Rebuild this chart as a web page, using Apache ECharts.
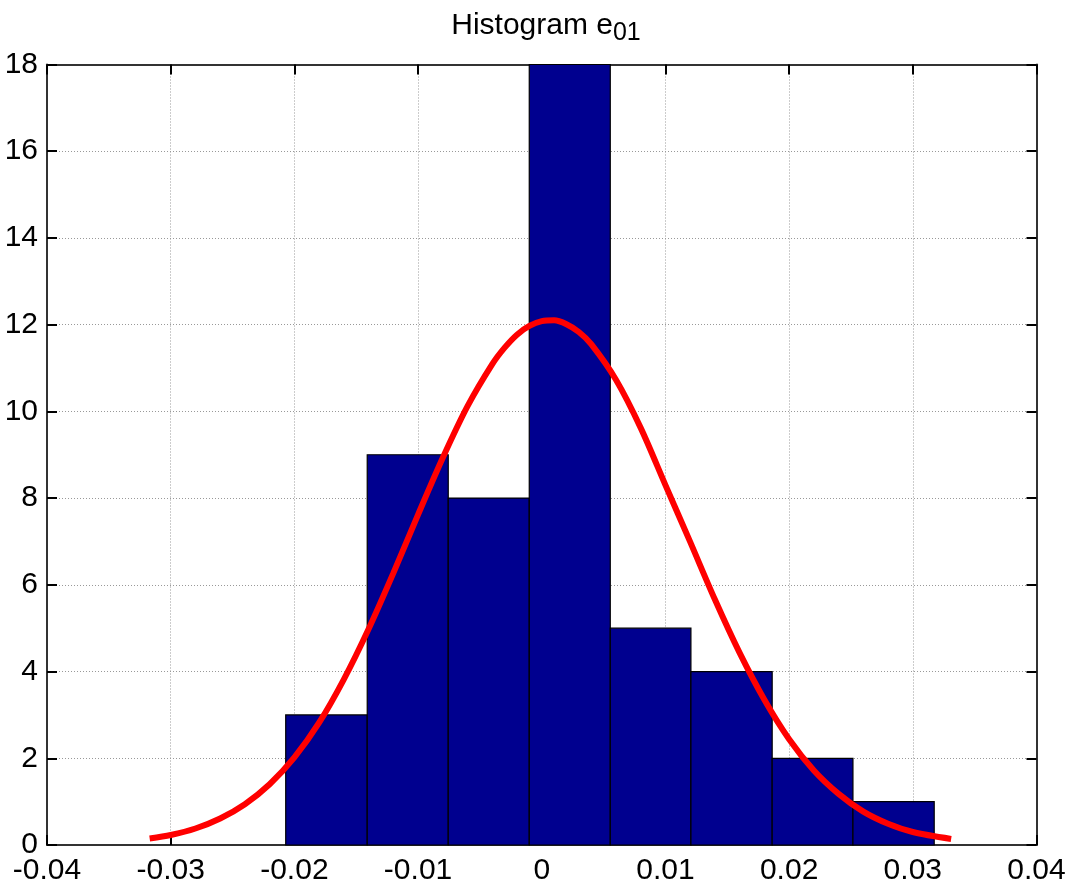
<!DOCTYPE html>
<html>
<head>
<meta charset="utf-8">
<script src="https://cdn.jsdelivr.net/npm/echarts@6/dist/echarts.min.js"></script>
<style>
html,body{margin:0;padding:0;background:#fff;}
#chart{width:1077px;height:886px;}
</style>
</head>
<body>
<div id="chart"></div>
<script>
// Histogram bin edges and counts
const binEdges = [-0.02070, -0.01411, -0.00756, -0.00101, 0.00554, 0.01206, 0.01863, 0.02516, 0.03173];
const counts = [3, 9, 8, 18, 5, 4, 2, 1];

// Fitted curve points
const curveX = [-0.0317, -0.030, -0.028, -0.026, -0.024, -0.022, -0.020, -0.018, -0.016, -0.014,
  -0.012, -0.010, -0.008, -0.006, -0.004, -0.003, -0.002, -0.001, 0.000, 0.001, 0.002, 0.003, 0.004,
  0.006, 0.008, 0.010, 0.012, 0.014, 0.016, 0.018, 0.020, 0.022, 0.024, 0.026, 0.028, 0.030, 0.0331];
const curveY = [0.15, 0.23, 0.38, 0.61, 0.94, 1.40, 2.02, 2.82, 3.82, 4.98,
  6.27, 7.62, 8.93, 10.12, 11.09, 11.47, 11.77, 11.97, 12.08, 12.10, 12.01, 11.83, 11.55,
  10.73, 9.62, 8.30, 6.99, 5.66, 4.43, 3.35, 2.44, 1.72, 1.18, 0.77, 0.49, 0.30, 0.14];

// Axis settings
const xTicks = {min: -0.04, max: 0.04, interval: 0.01};
const yTicks = {min: 0, max: 18, interval: 2};
const titleMain = 'Histogram e';
const titleSub = '01';

const chart = echarts.init(document.getElementById('chart'), null, {renderer: 'canvas'});
const font = '"Liberation Sans", Arial, Helvetica, sans-serif';
const frameColor = '#333';

function fmtX(v) {
  if (Math.abs(v) < 1e-9) return '0';
  return (Math.round(v * 100) / 100).toFixed(2);
}

const axisCommon = {
  axisLine: {show: true, onZero: false, lineStyle: {color: frameColor, width: 2}},
  axisTick: {show: true, inside: true, length: 10, lineStyle: {color: '#000', width: 2}},
};

const option = {
  animation: false,
  backgroundColor: '#fff',
  title: {
    text: '{a|' + titleMain + '}{s|' + titleSub + '}',
    left: 541, textAlign: 'center', top: 6,
    textStyle: {
      rich: {
        a: {fontFamily: font, fontSize: 30, fontWeight: 'normal', color: '#000', lineHeight: 34, verticalAlign: 'top'},
        s: {fontFamily: font, fontSize: 25, fontWeight: 'normal', color: '#000', lineHeight: 34, verticalAlign: 'top', padding: [10, 0, 0, 0]}
      }
    }
  },
  grid: {left: 47, right: 40.5, top: 64.5, bottom: 40.3, containLabel: false},
  xAxis: [
    Object.assign({
      type: 'value', position: 'bottom',
      min: xTicks.min, max: xTicks.max, interval: xTicks.interval,
      axisLabel: {show: true, margin: 11, fontFamily: font, fontSize: 30, color: '#000', formatter: fmtX},
      splitLine: {show: true, lineStyle: {color: '#999', width: 1, type: [1, 2]}}
    }, axisCommon),
    Object.assign({
      type: 'value', position: 'top',
      min: xTicks.min, max: xTicks.max, interval: xTicks.interval,
      axisLabel: {show: false}, splitLine: {show: false}
    }, axisCommon)
  ],
  yAxis: [
    Object.assign({
      type: 'value', position: 'left',
      min: yTicks.min, max: yTicks.max, interval: yTicks.interval,
      axisLabel: {show: true, margin: 9, fontFamily: font, fontSize: 30, color: '#000'},
      splitLine: {show: true, lineStyle: {color: '#999', width: 1, type: [1, 2]}}
    }, axisCommon),
    Object.assign({
      type: 'value', position: 'right',
      min: yTicks.min, max: yTicks.max, interval: yTicks.interval,
      axisLabel: {show: false}, splitLine: {show: false}
    }, axisCommon)
  ],
  series: [
    {
      type: 'custom',
      xAxisIndex: 0, yAxisIndex: 0,
      data: counts.map((c, i) => [binEdges[i], binEdges[i + 1], c]),
      encode: {x: [0, 1], y: 2},
      z: 2,
      renderItem: function (params, api) {
        const p0 = api.coord([api.value(0), api.value(2)]);
        const p1 = api.coord([api.value(1), 0]);
        return {
          type: 'rect',
          shape: {x: p0[0], y: p0[1], width: p1[0] - p0[0], height: p1[1] - p0[1]},
          style: {fill: '#00008F', stroke: '#000', lineWidth: 1.2}
        };
      }
    },
    {
      type: 'line',
      xAxisIndex: 0, yAxisIndex: 0,
      data: curveX.map((x, i) => [x, curveY[i]]),
      symbol: 'none',
      smooth: 0.3,
      z: 5,
      lineStyle: {color: '#FF0000', width: 6}
    }
  ]
};
chart.setOption(option);
</script>
</body>
</html>
